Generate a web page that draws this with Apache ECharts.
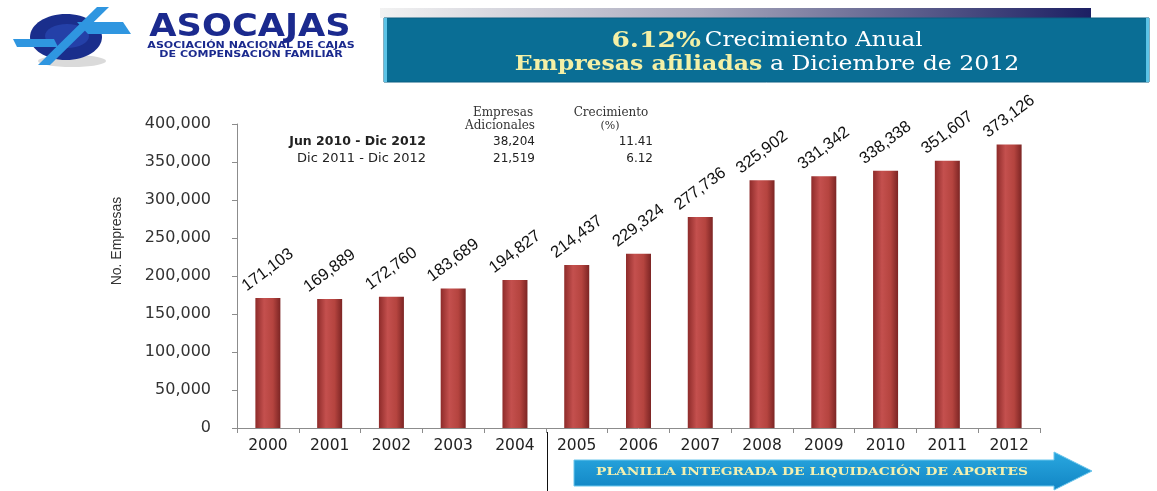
<!DOCTYPE html>
<html>
<head>
<meta charset="utf-8">
<style>
html,body{margin:0;padding:0;background:#fff;}
#chart{width:1157px;height:491px;}
</style>
<script src="https://cdn.jsdelivr.net/npm/echarts@6/dist/echarts.min.js"></script>
</head>
<body>
<div id="chart"></div>
<script>
const years = ['2000','2001','2002','2003','2004','2005','2006','2007','2008','2009','2010','2011','2012'];
const empresas = [171103,169889,172760,183689,194827,214437,229324,277736,325902,331342,338338,351607,373126];
const yTicks = [0,50000,100000,150000,200000,250000,300000,350000,400000];
const tablePeriods = ['Jun 2010 - Dic 2012','Dic 2011 - Dic 2012'];
const tableAdicionales = ['38,204','21,519'];
const tableCrecimiento = ['11.41','6.12'];

const fmt = v => v.toString().replace(/\B(?=(\d{3})+(?!\d))/g, ',');
const chart = echarts.init(document.getElementById('chart'), null, {renderer:'canvas'});

const barColor = new echarts.graphic.LinearGradient(0,0,1,0,[
  {offset:0,color:'#8E2B2A'},
  {offset:0.35,color:'#C4504E'},
  {offset:0.7,color:'#B5443F'},
  {offset:1,color:'#7C2524'}
]);

const graphics = [];
// top gradient strip
graphics.push({type:'rect', shape:{x:380,y:8,width:711,height:10},
  style:{fill:new echarts.graphic.LinearGradient(0,0,1,0,[{offset:0,color:'#F2F2F2'},{offset:0.45,color:'#A9A9BD'},{offset:1,color:'#1C1F63'}])}, silent:true});
// teal box
graphics.push({type:'rect', shape:{x:384,y:18,width:765,height:64},
  style:{fill:'#0A6E95', stroke:'#0A5E82', lineWidth:1}, silent:true});
graphics.push({type:'rect', shape:{x:384,y:18,width:3,height:64}, style:{fill:'#5CC3E6'}, silent:true});
graphics.push({type:'rect', shape:{x:1146,y:18,width:3,height:64}, style:{fill:'#5CC3E6'}, silent:true});
graphics.push({type:'text', x:767, y:41, scaleX:1.15, style:{
  text:'{a|6.12%} {b|Crecimiento Anual}', align:'center', verticalAlign:'middle',
  rich:{a:{fontFamily:'DejaVu Serif',fontWeight:'bold',fontSize:23,fill:'#F4F0A6',color:'#F4F0A6'},
        b:{fontFamily:'DejaVu Serif',fontSize:20,fill:'#FFFFFF',color:'#FFFFFF'}}}, silent:true});
graphics.push({type:'text', x:767, y:65, scaleX:1.15, style:{
  text:'{a|Empresas afiliadas}  {b|a Diciembre de 2012}', align:'center', verticalAlign:'middle',
  rich:{a:{fontFamily:'DejaVu Serif',fontWeight:'bold',fontSize:20.5,fill:'#F4F0A6',color:'#F4F0A6'},
        b:{fontFamily:'DejaVu Serif',fontSize:20.5,fill:'#FFFFFF',color:'#FFFFFF'}}}, silent:true});

// logo
graphics.push({type:'ellipse', shape:{cx:72,cy:61,rx:34,ry:6}, style:{fill:'rgba(150,150,150,0.35)'}, silent:true});
graphics.push({type:'ellipse', shape:{cx:66,cy:37,rx:36,ry:23}, style:{fill:'#1A2E8C'}, silent:true});
graphics.push({type:'ellipse', shape:{cx:67,cy:36,rx:22,ry:12}, style:{fill:'#2440A8'}, silent:true});
graphics.push({type:'polygon', shape:{points:[[77,22],[123,22],[131,34],[88,34]]}, style:{fill:'#2F96E0'}, silent:true});
graphics.push({type:'polygon', shape:{points:[[13,39],[54,39],[58,47],[17,47]]}, style:{fill:'#2F96E0'}, silent:true});
graphics.push({type:'polygon', shape:{points:[[97,7],[109,7],[50,65],[38,65]]}, style:{fill:'#2F96E0'}, silent:true});
graphics.push({type:'text', x:250, y:28, scaleX:1.1, style:{text:'ASOCAJAS', align:'center', verticalAlign:'middle',
  fontFamily:'DejaVu Sans', fontWeight:'bold', fontSize:32, fill:'#1B2A8E'}, silent:true});
graphics.push({type:'text', x:251, y:46, scaleX:1.3, style:{text:'ASOCIACIÓN NACIONAL DE CAJAS', align:'center', verticalAlign:'middle',
  fontFamily:'DejaVu Sans', fontWeight:'bold', fontSize:8.5, fill:'#1B2A8E'}, silent:true});
graphics.push({type:'text', x:251, y:55, scaleX:1.3, style:{text:'DE COMPENSACIÓN FAMILIAR', align:'center', verticalAlign:'middle',
  fontFamily:'DejaVu Sans', fontWeight:'bold', fontSize:8.5, fill:'#1B2A8E'}, silent:true});

// table
graphics.push({type:'text', x:503, y:113, style:{text:'Empresas', align:'center', verticalAlign:'middle', fontFamily:'DejaVu Serif', fontSize:12, fill:'#333'}, silent:true});
graphics.push({type:'text', x:500, y:126, style:{text:'Adicionales', align:'center', verticalAlign:'middle', fontFamily:'DejaVu Serif', fontSize:12, fill:'#333'}, silent:true});
graphics.push({type:'text', x:611, y:113, style:{text:'Crecimiento', align:'center', verticalAlign:'middle', fontFamily:'DejaVu Serif', fontSize:12, fill:'#333'}, silent:true});
graphics.push({type:'text', x:610, y:126, style:{text:'(%)', align:'center', verticalAlign:'middle', fontFamily:'DejaVu Serif', fontSize:11, fill:'#333'}, silent:true});
tablePeriods.forEach((p,i)=>{
  const y = 142 + i*17;
  graphics.push({type:'text', x:426, y:y, style:{text:p, align:'right', verticalAlign:'middle', fontFamily:'DejaVu Sans', fontWeight: i===0?'bold':'normal', fontSize:i===0?12.5:13, fill:'#222'}, silent:true});
  graphics.push({type:'text', x:535, y:y, style:{text:tableAdicionales[i], align:'right', verticalAlign:'middle', fontFamily:'DejaVu Sans', fontSize:12, fill:'#222'}, silent:true});
  graphics.push({type:'text', x:653, y:y, style:{text:tableCrecimiento[i], align:'right', verticalAlign:'middle', fontFamily:'DejaVu Sans', fontSize:12, fill:'#222'}, silent:true});
});

// y-axis title
graphics.push({type:'text', x:117, y:241, rotation:Math.PI/2, style:{text:'No. Empresas', align:'center', verticalAlign:'middle',
  fontFamily:'Liberation Sans', fontSize:14, fill:'#333'}, silent:true});

// bottom line and arrow
graphics.push({type:'line', shape:{x1:547.5,y1:432,x2:547.5,y2:491}, style:{stroke:'#111', lineWidth:1}, silent:true});
graphics.push({type:'polygon', shape:{points:[[574,460],[1054,460],[1054,452],[1092,471],[1054,490],[1054,486],[574,486]]},
  style:{fill:new echarts.graphic.LinearGradient(0,0,0,1,[{offset:0,color:'#2AA8E0'},{offset:1,color:'#1185C4'}]), stroke:'#6BC6EC', lineWidth:1}, silent:true});
graphics.push({type:'text', x:812, y:472, scaleX:1.2, style:{text:'PLANILLA INTEGRADA DE LIQUIDACIÓN DE APORTES', align:'center', verticalAlign:'middle',
  fontFamily:'DejaVu Serif', fontWeight:'bold', fontSize:11.5, fill:'#F2F0B0'}, silent:true});

chart.setOption({
  animation:false,
  backgroundColor:'#ffffff',
  grid:{left:237, right:117, top:124, bottom:63, containLabel:false},
  xAxis:{type:'category', data:years,
    axisLine:{lineStyle:{color:'#8C8C8C', width:1}},
    axisTick:{show:true, length:5, lineStyle:{color:'#8C8C8C'}},
    axisLabel:{fontFamily:'DejaVu Sans', fontSize:15.5, color:'#222', margin:10}
  },
  yAxis:{type:'value', min:0, max:400000, interval:50000,
    axisLine:{show:true, lineStyle:{color:'#8C8C8C'}},
    axisTick:{show:true, length:5, inside:false, lineStyle:{color:'#8C8C8C'}},
    splitLine:{show:false},
    axisLabel:{fontFamily:'DejaVu Sans', fontSize:16, color:'#333', margin:26, formatter:v=>fmt(v)}
  },
  series:[{type:'bar', data:empresas, barWidth:25,
    itemStyle:{color:barColor},
    label:{show:true, position:'top', distance:28, rotate:37, align:'center', verticalAlign:'middle',
      fontFamily:'Liberation Sans', fontSize:16.5, color:'#111', formatter:p=>fmt(p.value)}
  }],
  graphic:graphics
});
</script>
</body>
</html>
